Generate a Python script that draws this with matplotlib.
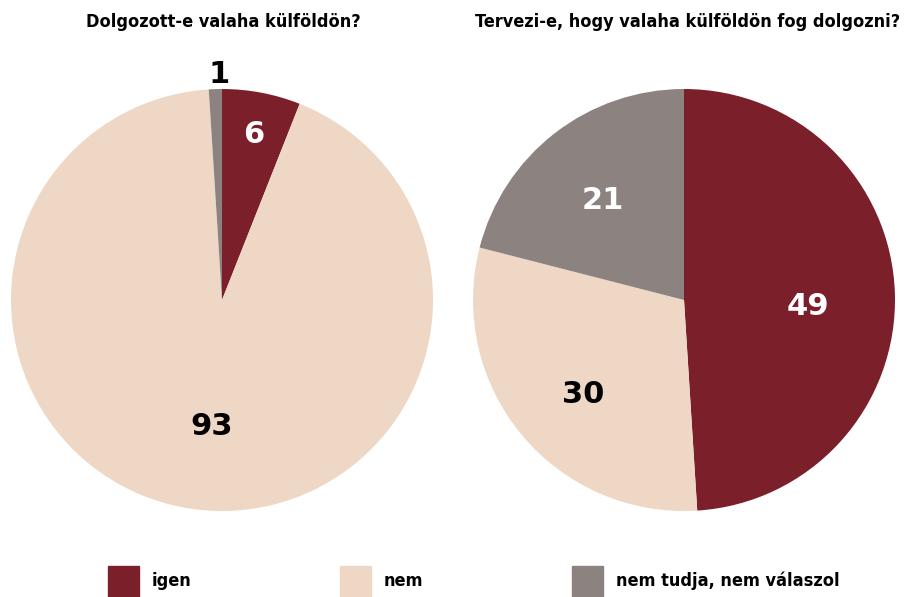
import numpy as np
import matplotlib
matplotlib.use('Agg')
import matplotlib.pyplot as plt
from matplotlib import font_manager

categories = ['igen', 'nem', 'nem tudja, nem válaszol']
worked_abroad = [6, 93, 1]
plans_abroad = [49, 30, 21]
titles = ['Dolgozott-e valaha külföldön?',
          'Tervezi-e, hogy valaha külföldön fog dolgozni?']

colors = ['#7b1f2b', '#efd7c5', '#8c8280']

# look for a condensed face for the titles and legend
cond = [f for f in font_manager.fontManager.ttflist
        if 'ondensed' in f.fname and f.weight in ('bold', 700)]
narrow_font = font_manager.FontProperties(fname=cond[0].fname) if cond else \
    font_manager.FontProperties(family='DejaVu Sans', weight='bold')

W, H = 911, 597
fig = plt.figure(figsize=(W / 100, H / 100), dpi=100)


def pie_axes(cx, cy, r):
    return fig.add_axes([(cx - r) / W, (H - cy - r) / H, 2 * r / W, 2 * r / H])


def draw_pie(ax, values, dists, nudges, label_colors):
    wedges, _ = ax.pie(values, colors=colors, startangle=90, counterclock=False,
                       radius=1, wedgeprops=dict(linewidth=0))
    for w, v, d, n, c in zip(wedges, values, dists, nudges, label_colors):
        ang = np.deg2rad((w.theta1 + w.theta2) / 2 + n)
        ax.text(d * np.cos(ang), d * np.sin(ang), str(v), ha='center', va='center',
                fontsize=22, fontweight='bold', color=c, family='DejaVu Sans')
    ax.set_xlim(-1, 1)
    ax.set_ylim(-1, 1)
    ax.set_aspect('equal')
    ax.axis('off')


ax1 = pie_axes(222, 300, 211)
draw_pie(ax1, worked_abroad, [0.80, 0.60, 1.07], [0, 4.5, -1],
         ['white', 'black', 'black'])
ax2 = pie_axes(684, 300, 211)
draw_pie(ax2, plans_abroad, [0.59, 0.655, 0.61], [-5, 3.8, 1.4],
         ['white', 'black', 'white'])

fp = narrow_font.copy()
fp.set_size(13)
fig.text(223 / W, 1 - 22 / H, titles[0], ha='center', va='center', fontproperties=fp)
fig.text(688 / W, 1 - 22 / H, titles[1], ha='center', va='center', fontproperties=fp)

# legend
leg_x = [108, 340, 572]
for x, lab, col in zip(leg_x, categories, colors):
    fig.patches.append(plt.Rectangle((x / W, 1 - 597 / H), 31 / W, 31 / H,
                                     color=col, transform=fig.transFigure, figure=fig))
    fig.text((x + 44) / W, 1 - 581 / H, lab, ha='left', va='center', fontproperties=fp)

fig.savefig('out.png', dpi=100)
